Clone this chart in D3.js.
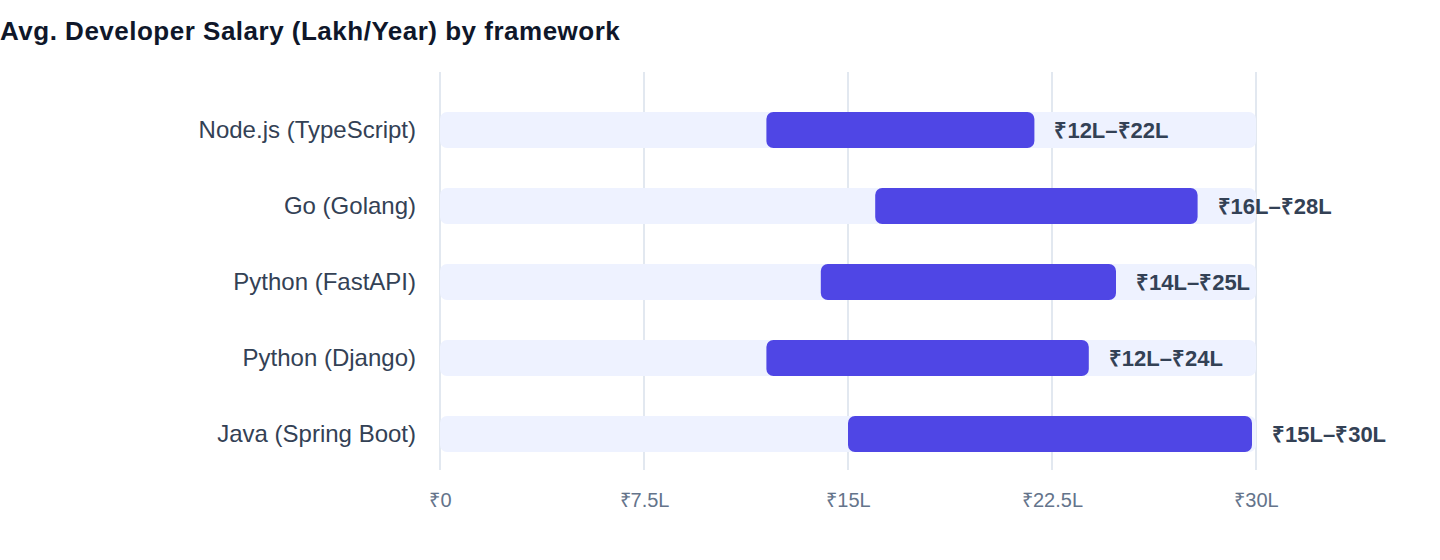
<!DOCTYPE html>
<html>
<head>
<meta charset="utf-8">
<script src="https://cdn.jsdelivr.net/npm/d3@7"></script>
<style>
  body { margin: 0; background: #fff; font-family: "Liberation Sans", Arial, Helvetica, sans-serif; }
  svg { display: block; }
</style>
</head>
<body>
<svg id="chart" width="1440" height="560"></svg>
<script>
var width = 1440,
    height = 560;

// data
var frameworks = ["Node.js (TypeScript)", "Go (Golang)", "Python (FastAPI)", "Python (Django)", "Java (Spring Boot)"];
var salaryLow = [12, 16, 14, 12, 15];
var salaryHigh = [22, 28, 25, 24, 30];
var tickValues = [0, 7.5, 15, 22.5, 30];
var tickLabels = ["₹0", "₹7.5L", "₹15L", "₹22.5L", "₹30L"];

var margin = { top: 92, left: 440, right: 184, bottom: 92 };

var svg = d3.select("#chart");

svg.append("text")
    .attr("x", 0)
    .attr("y", 40)
    .attr("fill", "#0f172a")
    .attr("font-size", 26)
    .attr("font-weight", 700)
    .attr("letter-spacing", 0.5)
    .text("Avg. Developer Salary (Lakh/Year) by framework");

var x = d3.scaleLinear()
    .domain([0, 30])
    .range([margin.left, width - margin.right]);

var y = d3.scaleBand()
    .domain(frameworks)
    .range([margin.top, margin.top + 5 * 76])
    .paddingInner(0.526)
    .paddingOuter(0.263);

// grid lines
svg.append("g")
    .selectAll("line")
    .data(tickValues)
    .join("line")
    .attr("x1", function (d) { return x(d); })
    .attr("x2", function (d) { return x(d); })
    .attr("y1", 72)
    .attr("y2", 470)
    .attr("stroke", "#e2e8f0")
    .attr("stroke-width", 2);

// x axis tick labels
var xAxis = d3.axisBottom(x)
    .tickValues(tickValues)
    .tickFormat(function (d, i) { return tickLabels[i]; })
    .tickSize(0)
    .tickPadding(0);

var gx = svg.append("g")
    .attr("transform", "translate(0,493)")
    .call(xAxis);
gx.select(".domain").remove();
gx.selectAll("text")
    .attr("fill", "#64748b")
    .attr("font-size", 20)
    .attr("font-family", "inherit");

// category labels
var yAxis = d3.axisLeft(y).tickSize(0).tickPadding(24);
var gy = svg.append("g")
    .attr("transform", "translate(" + margin.left + ",0)")
    .call(yAxis);
gy.select(".domain").remove();
gy.selectAll("text")
    .attr("fill", "#334155")
    .attr("font-size", 24)
    .attr("font-family", "inherit");

var rows = frameworks.map(function (f, i) {
    return { name: f, lo: salaryLow[i], hi: salaryHigh[i] };
});

// background tracks
svg.append("g")
    .selectAll("rect")
    .data(rows)
    .join("rect")
    .attr("x", x(0))
    .attr("y", function (d) { return y(d.name); })
    .attr("width", x(30) - x(0))
    .attr("height", y.bandwidth())
    .attr("rx", 7)
    .attr("fill", "#eef2ff");

// salary range bars
svg.append("g")
    .selectAll("rect")
    .data(rows)
    .join("rect")
    .attr("x", function (d) { return x(d.lo); })
    .attr("y", function (d) { return y(d.name); })
    .attr("width", function (d) { return x(d.hi) - x(d.lo) - 4; })
    .attr("height", y.bandwidth())
    .attr("rx", 7)
    .attr("fill", "#4f46e5");

// range labels
svg.append("g")
    .selectAll("text")
    .data(rows)
    .join("text")
    .attr("x", function (d) { return x(d.hi) + 16; })
    .attr("y", function (d) { return y(d.name) + y.bandwidth() / 2; })
    .attr("dy", "0.35em")
    .attr("fill", "#334155")
    .attr("font-size", 22)
    .attr("font-weight", 700)
    .text(function (d) { return "₹" + d.lo + "L–₹" + d.hi + "L"; });
</script>
</body>
</html>
